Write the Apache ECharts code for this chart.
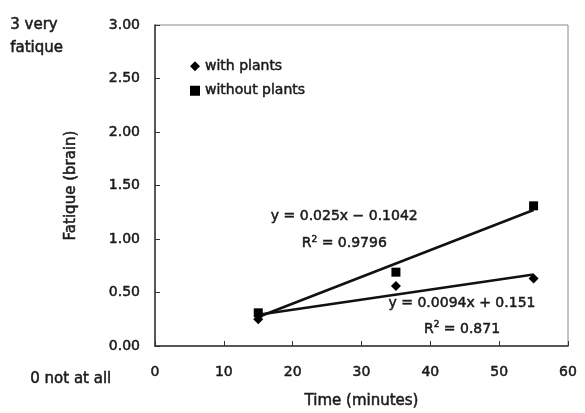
<!DOCTYPE html>
<html>
<head>
<meta charset="utf-8">
<script src="https://cdn.jsdelivr.net/npm/echarts@6/dist/echarts.min.js"></script>
<style>
  html, body { margin: 0; padding: 0; background: #fff; }
  #chart { width: 585px; height: 413px; }
</style>
</head>
<body>
<div id="chart"></div>
<script>
// Fatigue (brain) scores over time, with and without plants in the room
const timeMinutes = [15, 35, 55];
const withPlants = [0.25, 0.56, 0.63];
const withoutPlants = [0.31, 0.69, 1.31];

// Linear trendlines (slope, intercept, R²) as printed on the chart
const fitWith = { slope: 0.0094, intercept: 0.151, r2: '0.871', eq: 'y = 0.0094x + 0.151' };
const fitWithout = { slope: 0.025, intercept: -0.1042, r2: '0.9796', eq: 'y = 0.025x \u2212 0.1042' };
const fitRange = [15, 55];

const xTicks = [0, 10, 20, 30, 40, 50, 60];
const yTicks = [0, 0.5, 1, 1.5, 2, 2.5, 3];

const FONT = '"DejaVu Sans", "Liberation Sans", sans-serif';
const INK = '#1a1a1a';
// a thin outline in the text colour gives the labels a semi-bold weight
const HEAVY = { textBorderColor: INK, textBorderWidth: 0.5 };

function fitLine(fit) {
  return fitRange.map(x => [x, +(fit.slope * x + fit.intercept).toFixed(4)]);
}

function eqLabel(fit, xy, xy2) {
  return [
    { coord: xy, value: fit.eq, kind: 'eq' },
    { coord: xy2, value: fit.r2, kind: 'r2' }
  ];
}

const labelStyle = Object.assign({
  show: true,
  position: 'inside',
  fontFamily: FONT,
  fontSize: 14,
  color: INK,
  formatter: p => p.data.kind === 'r2' ? 'R{sup|2} = ' + p.data.value : p.data.value,
  rich: {
    sup: Object.assign({ fontSize: 9, verticalAlign: 'top', padding: [0, 0, 8, 0], fontFamily: FONT, color: INK }, HEAVY)
  }
}, HEAVY);

const chart = echarts.init(document.getElementById('chart'));
chart.setOption({
  animation: false,
  backgroundColor: '#fff',
  grid: {
    left: 155, right: 17, top: 25, bottom: 67,
    outerBoundsMode: 'none', containLabel: false,
    show: true, borderColor: '#888', borderWidth: 1
  },
  legend: {
    left: 185, top: 54, orient: 'vertical',
    itemGap: 10, itemWidth: 10, itemHeight: 10,
    textStyle: Object.assign({ fontFamily: FONT, fontSize: 14, color: INK }, HEAVY),
    data: [
      { name: 'with plants', icon: 'diamond', itemStyle: { color: '#000', opacity: 1 } },
      { name: 'without plants', icon: 'rect', itemStyle: { color: '#000', opacity: 1 } }
    ]
  },
  xAxis: {
    type: 'value', min: 0, max: 60, interval: 10,
    name: 'Time (minutes)', nameLocation: 'middle', nameGap: 48,
    nameTextStyle: Object.assign({ fontFamily: FONT, fontSize: 15, color: INK }, HEAVY),
    axisLine: { show: true, lineStyle: { color: '#333', width: 1.5 } },
    axisTick: { show: true, inside: true, length: 5, lineStyle: { color: '#333' } },
    axisLabel: Object.assign({
      fontFamily: FONT, fontSize: 14, color: INK, margin: 19,
      customValues: xTicks, formatter: v => String(v)
    }, HEAVY),
    splitLine: { show: false }
  },
  yAxis: {
    type: 'value', min: 0, max: 3, interval: 0.5,
    name: 'Fatique (brain)', nameLocation: 'middle', nameGap: 76, nameRotate: 90,
    nameTextStyle: Object.assign({ fontFamily: FONT, fontSize: 15, color: INK }, HEAVY),
    axisLine: { show: true, lineStyle: { color: '#333', width: 1.5 } },
    axisTick: { show: true, inside: true, length: 5, lineStyle: { color: '#333' } },
    axisLabel: Object.assign({
      fontFamily: FONT, fontSize: 14, color: INK, margin: 15,
      customValues: yTicks, formatter: v => v.toFixed(2)
    }, HEAVY),
    splitLine: { show: false }
  },
  series: [
    {
      name: 'with plants', type: 'scatter', symbol: 'diamond', symbolSize: 10,
      itemStyle: { color: '#000', opacity: 1 }, z: 5,
      data: timeMinutes.map((t, i) => [t, withPlants[i]])
    },
    {
      name: 'without plants', type: 'scatter', symbol: 'rect', symbolSize: 9,
      itemStyle: { color: '#000', opacity: 1 }, z: 5,
      data: timeMinutes.map((t, i) => [t, withoutPlants[i]])
    },
    {
      name: 'trend without', type: 'line', symbol: 'none', silent: true,
      lineStyle: { color: '#111', width: 2.5 },
      data: fitLine(fitWithout),
      markPoint: {
        symbol: 'circle', symbolSize: 1, itemStyle: { color: 'transparent' },
        label: labelStyle,
        data: eqLabel(fitWithout, [27.5, 1.21], [27.5, 0.96])
      }
    },
    {
      name: 'trend with', type: 'line', symbol: 'none', silent: true,
      lineStyle: { color: '#111', width: 2.5 },
      data: fitLine(fitWith),
      markPoint: {
        symbol: 'circle', symbolSize: 1, itemStyle: { color: 'transparent' },
        label: labelStyle,
        data: eqLabel(fitWith, [44.6, 0.40], [44.6, 0.16])
      }
    }
  ],
  graphic: [
    { type: 'text', left: 10, top: 14, style: { text: '3 very\nfatique', fontFamily: FONT, fontSize: 15, fill: INK, lineHeight: 23, stroke: INK, lineWidth: 0.5 } },
    { type: 'text', left: 30, top: 371, style: { text: '0 not at all', fontFamily: FONT, fontSize: 15, fill: INK, stroke: INK, lineWidth: 0.5 } }
  ]
});
</script>
</body>
</html>
